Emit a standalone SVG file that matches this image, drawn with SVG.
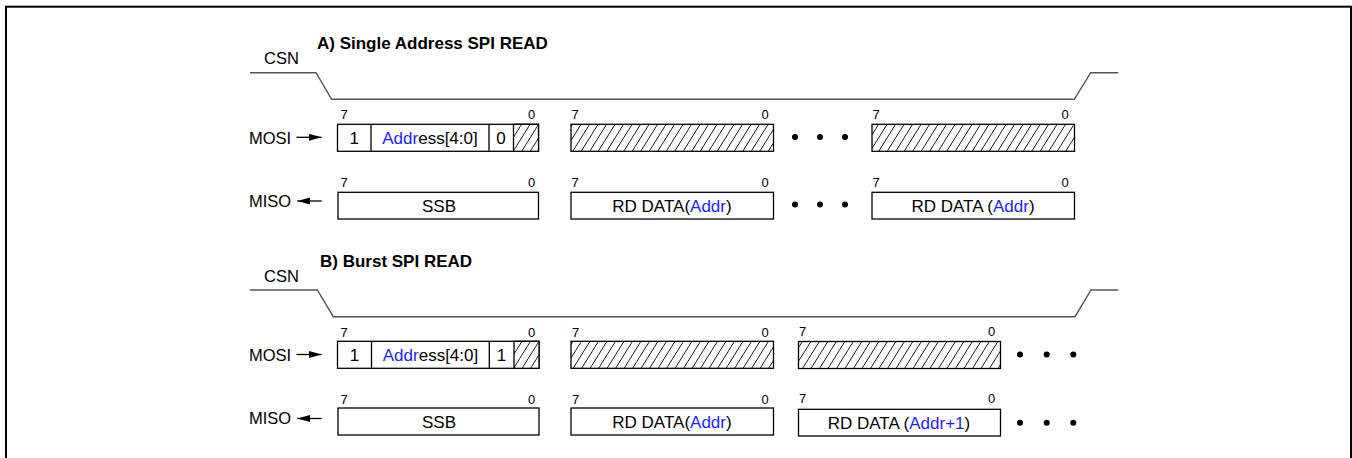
<svg xmlns="http://www.w3.org/2000/svg" width="1352" height="458" viewBox="0 0 1352 458">
<style>
text{font-family:"Liberation Sans",Arial,sans-serif;fill:#000}
.title{font-size:17px;font-weight:bold}
.lbl{font-size:16.5px}
.bt{font-size:17px}
.bit{font-size:13px}
.blue{fill:#1f1fff}
.box{fill:#fff;stroke:#000;stroke-width:1.3}
.hbox{fill:url(#hatch);stroke:#000;stroke-width:1.3}
.div{stroke:#000;stroke-width:1.3}
.csn{fill:none;stroke:#555;stroke-width:1.4}
.arr{stroke:#000;stroke-width:1.3;fill:none}
.dot{fill:#000}
</style>
<defs>
<pattern id="hatch" patternUnits="userSpaceOnUse" width="8.5" height="20" patternTransform="skewX(-32)">
<rect width="8.5" height="20" fill="#fff"/>
<line x1="4.25" y1="-1" x2="4.25" y2="21" stroke="#111" stroke-width="1"/>
</pattern>
<marker id="ah" markerUnits="userSpaceOnUse" markerWidth="14" markerHeight="8" refX="13" refY="3.5" orient="auto">
<path d="M0,0 L13,3.5 L0,7 z" fill="#000"/>
</marker>
</defs>
<rect x="6" y="6.7" width="1345" height="470" fill="none" stroke="#000" stroke-width="2"/>

<!-- Section A -->
<g id="titleA"><text class="title" x="317" y="48.5">A) Single Address SPI READ</text></g>
<g id="csnA-label"><text class="lbl" x="264" y="63.5">CSN</text></g>
<g id="mosiA-label"><text class="lbl" x="249" y="143.5">MOSI</text></g>
<g id="misoA-label"><text class="lbl" x="249" y="206.5">MISO</text></g>

<g id="mosiA-cmd">
<rect class="box" x="337.5" y="124.3" width="201" height="27"/>
<rect class="hbox" x="513.5" y="124.3" width="25" height="27"/>
<line class="div" x1="371" y1="124.3" x2="371" y2="151.3"/>
<line class="div" x1="489" y1="124.3" x2="489" y2="151.3"/>
<text class="bt" x="354.3" y="143.7" text-anchor="middle">1</text>
<text class="bt" x="430" y="143.7" text-anchor="middle"><tspan class="blue">Addr</tspan>ess[4:0]</text>
<text class="bt" x="501" y="143.7" text-anchor="middle">0</text>
<text class="bit" x="344" y="119.3" text-anchor="middle">7</text>
<text class="bit" x="531.5" y="119.3" text-anchor="middle">0</text>
</g>
<g id="mosiA-d1">
<rect class="hbox" x="571" y="124.3" width="202.5" height="27"/>
<text class="bit" x="575" y="119.3" text-anchor="middle">7</text>
<text class="bit" x="765" y="119.3" text-anchor="middle">0</text>
</g>
<g id="mosiA-dots"><circle class="dot" cx="795" cy="137" r="3"/><circle class="dot" cx="820" cy="137" r="3"/><circle class="dot" cx="845" cy="137" r="3"/></g>
<g id="mosiA-d2">
<rect class="hbox" x="872" y="124.3" width="202.5" height="27"/>
<text class="bit" x="876" y="119.3" text-anchor="middle">7</text>
<text class="bit" x="1065" y="119.3" text-anchor="middle">0</text>
</g>

<g id="misoA-ssb">
<rect class="box" x="338" y="192.3" width="200.5" height="26.7"/>
<text class="bt" x="439" y="211.6" text-anchor="middle">SSB</text>
<text class="bit" x="344" y="186.7" text-anchor="middle">7</text>
<text class="bit" x="531.5" y="186.7" text-anchor="middle">0</text>
</g>
<g id="misoA-d1">
<rect class="box" x="571" y="192.3" width="202.5" height="26.7"/>
<text class="bt" x="672" y="211.6" text-anchor="middle">RD DATA(<tspan class="blue">Addr</tspan>)</text>
<text class="bit" x="575" y="186.7" text-anchor="middle">7</text>
<text class="bit" x="765" y="186.7" text-anchor="middle">0</text>
</g>
<g id="misoA-dots"><circle class="dot" cx="795" cy="204.5" r="3"/><circle class="dot" cx="820" cy="204.5" r="3"/><circle class="dot" cx="845" cy="204.5" r="3"/></g>
<g id="misoA-d2">
<rect class="box" x="872" y="192.3" width="202.5" height="26.7"/>
<text class="bt" x="973" y="211.6" text-anchor="middle">RD DATA (<tspan class="blue">Addr</tspan>)</text>
<text class="bit" x="876" y="186.7" text-anchor="middle">7</text>
<text class="bit" x="1065" y="186.7" text-anchor="middle">0</text>
</g>

<!-- Section B -->
<g id="titleB"><text class="title" x="320" y="266.7">B) Burst SPI READ</text></g>
<g id="csnB-label"><text class="lbl" x="264" y="281.5">CSN</text></g>
<g id="mosiB-label"><text class="lbl" x="249" y="360.7">MOSI</text></g>
<g id="misoB-label"><text class="lbl" x="249" y="424">MISO</text></g>

<g id="mosiB-cmd">
<rect class="box" x="337.5" y="341.3" width="201.5" height="27"/>
<rect class="hbox" x="514" y="341.3" width="25" height="27"/>
<line class="div" x1="371.5" y1="341.3" x2="371.5" y2="368.3"/>
<line class="div" x1="489.3" y1="341.3" x2="489.3" y2="368.3"/>
<text class="bt" x="354.5" y="360.8" text-anchor="middle">1</text>
<text class="bt" x="430.5" y="360.8" text-anchor="middle"><tspan class="blue">Addr</tspan>ess[4:0]</text>
<text class="bt" x="501.5" y="360.8" text-anchor="middle">1</text>
<text class="bit" x="344" y="336.5" text-anchor="middle">7</text>
<text class="bit" x="531.5" y="336.5" text-anchor="middle">0</text>
</g>
<g id="mosiB-d1">
<rect class="hbox" x="571" y="341.3" width="202.5" height="27"/>
<text class="bit" x="575.5" y="336.5" text-anchor="middle">7</text>
<text class="bit" x="765" y="336.5" text-anchor="middle">0</text>
</g>
<g id="mosiB-d2">
<rect class="hbox" x="798.5" y="341.5" width="202" height="27"/>
<text class="bit" x="802.7" y="336" text-anchor="middle">7</text>
<text class="bit" x="991.7" y="336" text-anchor="middle">0</text>
</g>
<g id="mosiB-dots"><circle class="dot" cx="1020" cy="354.5" r="3"/><circle class="dot" cx="1046.7" cy="354.5" r="3"/><circle class="dot" cx="1073.3" cy="354.5" r="3"/></g>

<g id="misoB-ssb">
<rect class="box" x="338" y="408" width="201" height="27"/>
<text class="bt" x="439" y="427.5" text-anchor="middle">SSB</text>
<text class="bit" x="344" y="403.5" text-anchor="middle">7</text>
<text class="bit" x="531.5" y="403.5" text-anchor="middle">0</text>
</g>
<g id="misoB-d1">
<rect class="box" x="571" y="408" width="202.5" height="27"/>
<text class="bt" x="672" y="427.5" text-anchor="middle">RD DATA(<tspan class="blue">Addr</tspan>)</text>
<text class="bit" x="575.5" y="403.5" text-anchor="middle">7</text>
<text class="bit" x="765" y="403.5" text-anchor="middle">0</text>
</g>
<g id="misoB-d2">
<rect class="box" x="798.5" y="409.3" width="202" height="26.7"/>
<text class="bt" x="899" y="428.5" text-anchor="middle">RD DATA (<tspan class="blue">Addr+1</tspan>)</text>
<text class="bit" x="802.7" y="403.3" text-anchor="middle">7</text>
<text class="bit" x="991.7" y="403.3" text-anchor="middle">0</text>
</g>
<g id="misoB-dots"><circle class="dot" cx="1020" cy="422.7" r="3"/><circle class="dot" cx="1046.7" cy="422.7" r="3"/><circle class="dot" cx="1073.3" cy="422.7" r="3"/></g>

<g id="connectors">
<polyline class="csn" points="250,72.7 316,72.7 331.7,99.3 1074.3,99.3 1090.7,72.7 1118.3,72.7"/>
<polyline class="csn" points="250,290 317.3,290 333.3,316.7 1075,316.7 1091,290 1118.3,290"/>
<line class="arr" x1="296.5" y1="137.3" x2="321.7" y2="137.3" marker-end="url(#ah)"/>
<line class="arr" x1="321.7" y1="201" x2="297.3" y2="201" marker-end="url(#ah)"/>
<line class="arr" x1="296.5" y1="354.5" x2="321.7" y2="354.5" marker-end="url(#ah)"/>
<line class="arr" x1="321.7" y1="418.5" x2="297.3" y2="418.5" marker-end="url(#ah)"/>
</g>
</svg>
